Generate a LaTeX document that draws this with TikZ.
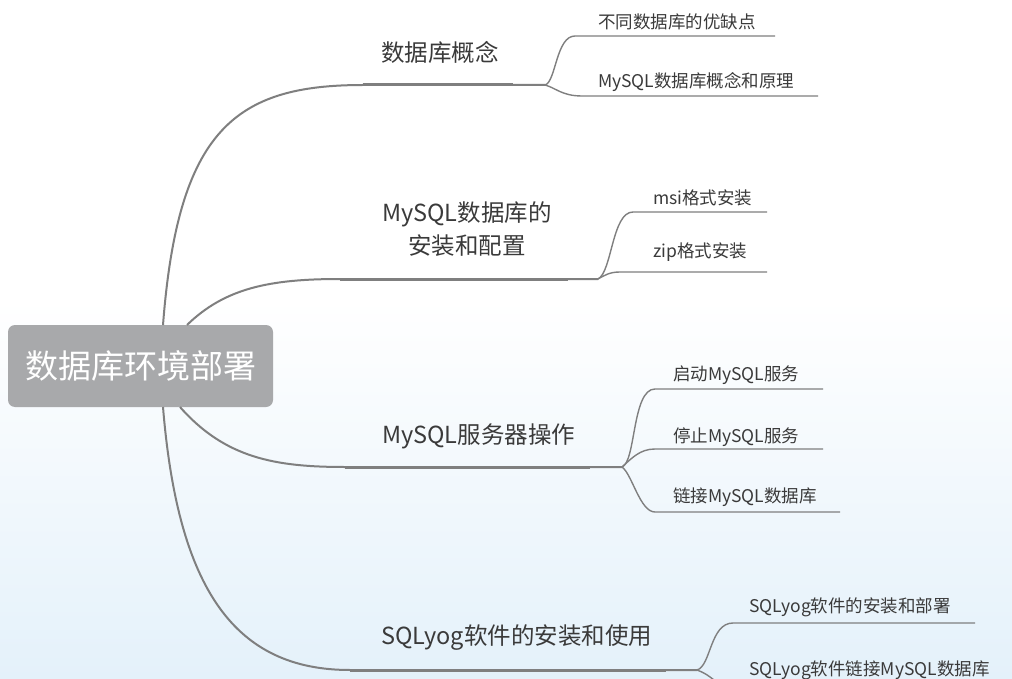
\documentclass[tikz,border=0pt]{standalone}
\usepackage{fontspec}
\setmainfont{Noto Sans CJK SC}
\usetikzlibrary{positioning, calc}
\definecolor{linegray}{HTML}{7F7F7F}
\definecolor{textgray}{HTML}{3A3A3A}
\definecolor{rootgray}{HTML}{A8A9AB}
\definecolor{skyblue}{HTML}{E4F1FA}
\tikzset{
  rootbox/.style={
    rectangle,
    rounded corners=7pt,
    fill=rootgray,
    text=white,
    minimum width=265pt,
    minimum height=82pt,
    inner sep=0pt,
    font=\fontsize{33}{40}\selectfont
  },
  branch/.style={
    anchor=west,
    inner sep=0pt,
    text=textgray,
    align=center,
    font=\fontsize{23.5}{33}\selectfont
  },
  leaf/.style={
    anchor=west,
    inner sep=0pt,
    text=textgray,
    font=\fontsize{17.5}{21}\selectfont
  },
  stem/.style={
    draw=linegray,
    line width=2pt
  },
  twig/.style={
    draw=linegray,
    line width=1.4pt
  }
}

\begin{document}
\begin{tikzpicture}[x=1pt, y=-1pt]
  % background
  \useasboundingbox (0,0) rectangle (1012,679);
  \fill[white] (0,0) rectangle (1012,300);
  \fill[top color=white, bottom color=skyblue] (0,300) rectangle (1012,679);

  % root
  \node[rootbox] (root) at (140.5,366) {数据库环境部署};

  % main topics
  \node[branch] (concept) at (381,52) {数据库概念};
  \node[branch] (install) at (382,229) {MySQL数据库的\\安装和配置};
  \node[branch] (server) at (382,436) {MySQL服务器操作};
  \node[branch] (sqlyog) at (381,638) {SQLyog软件的安装和使用};

  % sub topics
  \node[leaf] (pros) at (598,22) {不同数据库的优缺点};
  \node[leaf] (principle) at (598,82) {MySQL数据库概念和原理};
  \node[leaf] (msi) at (653,198) {msi格式安装};
  \node[leaf] (zip) at (653,252) {zip格式安装};
  \node[leaf] (start) at (673,375) {启动MySQL服务};
  \node[leaf] (stop) at (673,437) {停止MySQL服务};
  \node[leaf] (connect) at (673,497) {链接MySQL数据库};
  \node[leaf] (setup) at (749,607) {SQLyog软件的安装和部署};
  \node[leaf] (link) at (749,670) {SQLyog软件链接MySQL数据库};

  % anchor points of the lines
  \coordinate (s1) at (163,325);
  \coordinate (s2) at (187,325);
  \coordinate (s3) at (180,407);
  \coordinate (s4) at (163,407);
  \coordinate (u1) at (363,85);
  \coordinate (u2) at (340,279);
  \coordinate (u3) at (345,467);
  \coordinate (u4) at (350,670);
  \coordinate (f1) at (545,85);
  \coordinate (f2) at (598,279);
  \coordinate (f3) at (622,467);
  \coordinate (f4) at (697,670);

  % root to topics
  \draw[stem] (s1) .. controls (178,130) and (235,85) .. (u1) -- (f1);
  \draw[stem] (s2) .. controls (225,288) and (270,279) .. (u2) -- (f2);
  \draw[stem] (s3) .. controls (225,458) and (275,467) .. (u3) -- (f3);
  \draw[stem] (s4) .. controls (178,590) and (235,670) .. (u4) -- (f4);
  \draw[stem, line width=3pt] (u1) -- (513,85);
  \draw[stem, line width=3pt] (u2) -- (568,279);
  \draw[stem, line width=3pt] (u3) -- (590,467);
  \draw[stem, line width=3pt] (u4) -- (666,670);

  % topics to sub topics
  \draw[twig] (f1) .. controls (556,82) and (556,36) .. (575,36) -- (pros.west |- 0,36) -- (775,36);
  \draw[twig] (f1) .. controls (556,88) and (562,96) .. (582,96) -- (818,96);
  \draw[twig] (f2) .. controls (612,272) and (612,212) .. (633,212) -- (767,212);
  \draw[twig] (f2) .. controls (605,275) and (610,272) .. (620,272) -- (767,272);
  \draw[twig] (f3) .. controls (636,462) and (632,389) .. (655,389) -- (823,389);
  \draw[twig] (f3) .. controls (632,458) and (640,449) .. (655,449) -- (823,449);
  \draw[twig] (f3) .. controls (632,474) and (640,512) .. (655,512) -- (840,512);
  \draw[twig] (f4) .. controls (711,666) and (710,623) .. (733,623) -- (975,623);
  \draw[twig] (f4) .. controls (708,674) and (712,679) .. (722,686);
\end{tikzpicture}
\end{document}
